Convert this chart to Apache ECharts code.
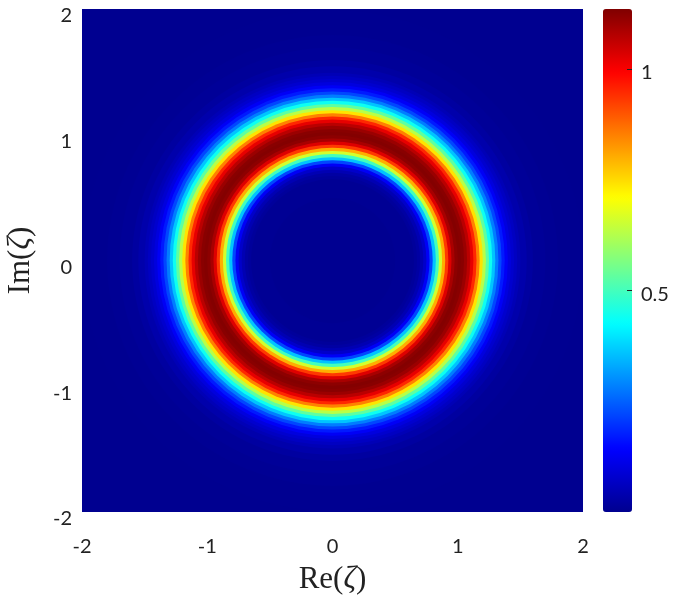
<!DOCTYPE html>
<html>
<head>
<meta charset="utf-8">
<script src="https://cdn.jsdelivr.net/npm/echarts@6/dist/echarts.min.js"></script>
<style>
    html, body { margin: 0; padding: 0; background: #fff; }
    #ringChart { width: 675px; height: 603px; }
</style>
</head>
<body>
<div id="ringChart"></div>
<script>
    // radial profile: band outer radius (in |zeta|) and the value in that band
    const bandOuter = [0.5, 0.65, 0.675, 0.7, 0.725, 0.75, 0.775, 0.8, 0.825, 0.85, 0.875, 0.9, 0.925, 0.95, 0.975, 1.0,
        1.025, 1.05, 1.075, 1.1, 1.125, 1.15, 1.175, 1.2, 1.225, 1.25, 1.275, 1.3, 1.325, 1.35, 1.375, 1.4,
        1.425, 1.45, 1.475, 1.5, 1.55, 1.6, 1.7, 1.8, 2.0, 2.9];
    const bandValue = [0.003, 0.006, 0.015, 0.025, 0.045, 0.075, 0.13, 0.22, 0.36, 0.5, 0.66, 0.8, 0.93, 1.03, 1.09, 1.12,
        1.13, 1.125, 1.105, 1.07, 1.02, 0.95, 0.85, 0.74, 0.63, 0.53, 0.44, 0.36, 0.28, 0.22, 0.17, 0.13,
        0.1, 0.08, 0.065, 0.05, 0.035, 0.022, 0.012, 0.006, 0.003, 0.001];
    const axisTicks = [-2, -1, 0, 1, 2];
    const colorbarTicks = [0.5, 1];
    const valueMin = 0;
    const valueMax = 1.135;

    // jet colormap
    const jet = ['#00008f', '#0000ff', '#0080ff', '#00ffff', '#80ff80', '#ffff00', '#ff8000', '#ff0000', '#800000'];

    // discs drawn from the outside in, each one covers the inner part of the previous
    const discData = [];
    for (let i = bandOuter.length - 1; i >= 0; i--) {
        discData.push([bandOuter[i], bandValue[i]]);
    }

    const tickFont = {
        color: '#222',
        fontSize: 20,
        fontFamily: 'Lato'
    };
    const titleRich = {
        t: {fontFamily: 'Liberation Serif', fontSize: 31, color: '#222'},
        z: {fontFamily: 'Liberation Serif', fontStyle: 'italic', fontSize: 31, color: '#222'}
    };

    let option = {
        animation: false,
        grid: [
            {left: 82, top: 9, width: 501, height: 503, outerBoundsMode: 'none'},
            {left: 603, top: 9, width: 29, height: 503, outerBoundsMode: 'none'}
        ],
        xAxis: [
            {
                gridIndex: 0,
                type: 'value',
                min: -2,
                max: 2,
                interval: 1,
                name: '{t|Re(}{z|ζ}{t|)}',
                nameLocation: 'middle',
                nameGap: 52,
                nameTextStyle: {rich: titleRich},
                axisLine: {show: false},
                axisTick: {show: false},
                splitLine: {show: false},
                axisLabel: Object.assign({margin: 25, customValues: axisTicks}, tickFont)
            },
            {
                gridIndex: 1,
                type: 'value',
                min: 0,
                max: 1,
                show: false
            }
        ],
        yAxis: [
            {
                gridIndex: 0,
                type: 'value',
                min: -2,
                max: 2,
                interval: 1,
                name: '{t|Im(}{z|ζ}{t|)}',
                nameLocation: 'middle',
                nameGap: 46,
                nameTextStyle: {rich: titleRich},
                axisLine: {show: false},
                axisTick: {show: false},
                splitLine: {show: false},
                axisLabel: Object.assign({
                    margin: 10,
                    verticalAlign: 'top',
                    lineHeight: 14,
                    customValues: axisTicks
                }, tickFont)
            },
            {
                // colorbar labels
                gridIndex: 1,
                type: 'value',
                position: 'right',
                min: valueMin,
                max: valueMax,
                axisLine: {show: false},
                splitLine: {show: false},
                axisTick: {show: false},
                axisLabel: Object.assign({
                    margin: 9,
                    verticalAlign: 'top',
                    lineHeight: 8,
                    customValues: colorbarTicks,
                    formatter: function (v) {
                        return String(v);
                    }
                }, tickFont)
            },
            {
                // colorbar tick marks, on the right edge pointing into the bar
                gridIndex: 1,
                type: 'value',
                position: 'left',
                offset: -29,
                min: valueMin,
                max: valueMax,
                zlevel: 1,
                axisLine: {show: false},
                splitLine: {show: false},
                axisLabel: {show: false},
                axisTick: {
                    length: 5,
                    customValues: colorbarTicks,
                    lineStyle: {color: '#222', width: 1}
                }
            }
        ],
        visualMap: {
            type: 'continuous',
            seriesIndex: 0,
            dimension: 1,
            min: valueMin,
            max: valueMax,
            left: 603,
            top: 9,
            padding: 0,
            itemWidth: 29,
            itemHeight: 503,
            calculable: false,
            hoverLink: false,
            showLabel: false,
            text: null,
            inRange: {color: jet}
        },
        series: [
            {
                type: 'custom',
                xAxisIndex: 0,
                yAxisIndex: 0,
                clip: true,
                silent: true,
                encode: {x: 0, y: 0},
                data: discData,
                renderItem: function (params, api) {
                    const c = api.coord([0, 0]);
                    const r = api.size([api.value(0), 0])[0];
                    return {
                        type: 'circle',
                        shape: {cx: c[0], cy: c[1], r: r},
                        style: {fill: api.visual('color')}
                    };
                }
            }
        ]
    };

    let chart = echarts.init(document.getElementById('ringChart'));
    chart.setOption(option);
</script>
</body>
</html>
